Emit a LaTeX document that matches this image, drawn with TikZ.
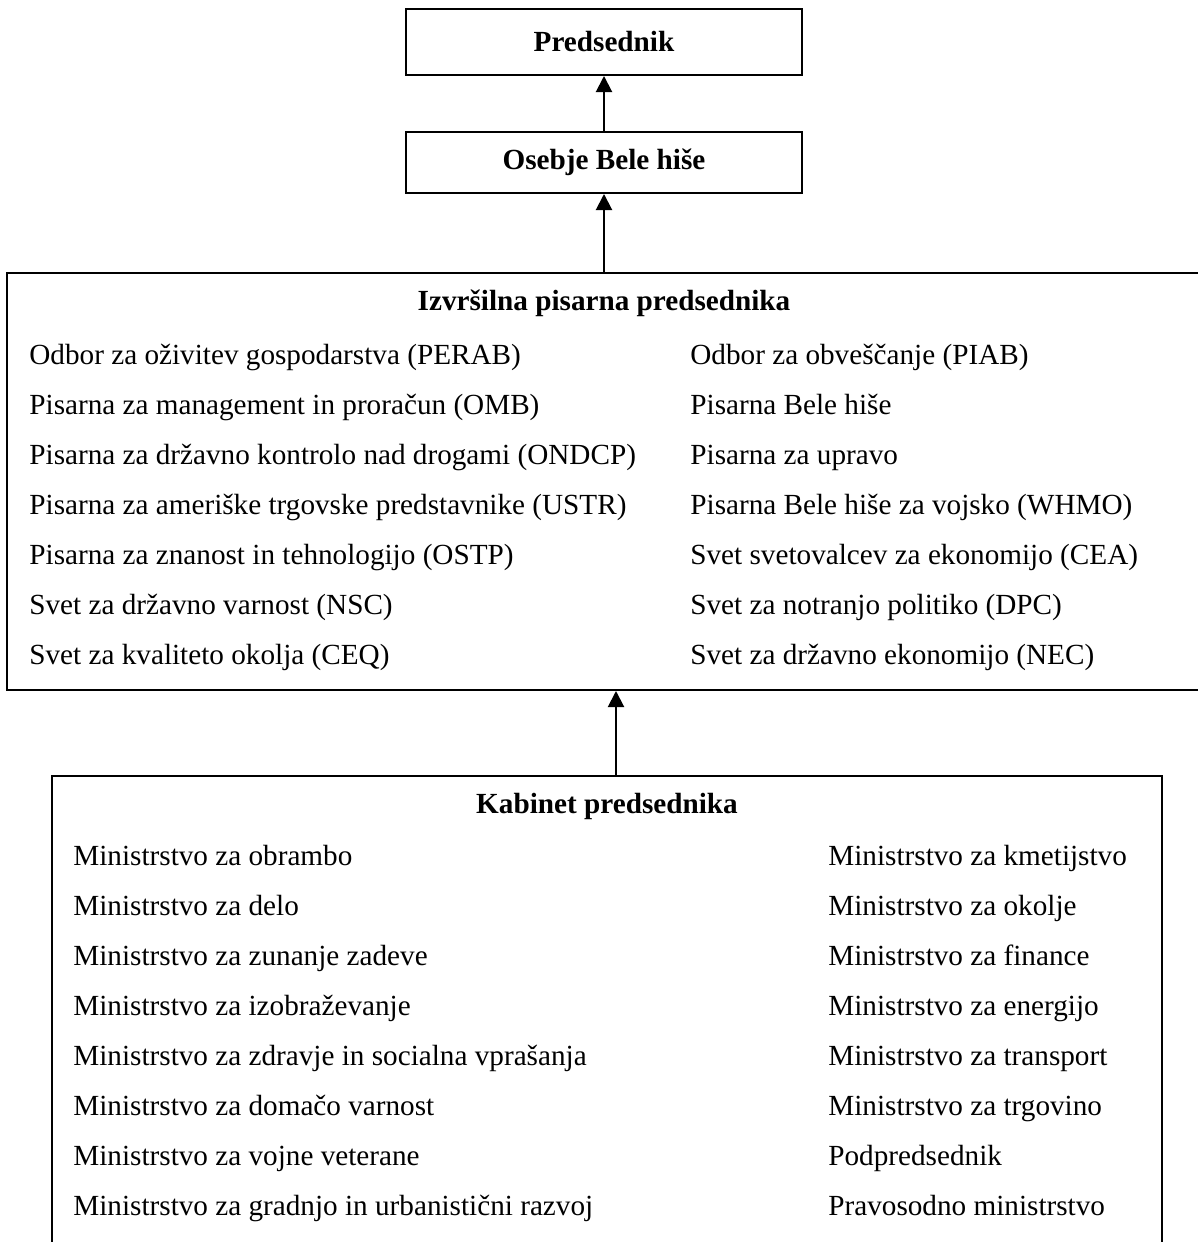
\documentclass[tikz,border=0pt]{standalone}
\usepackage{fontspec}
\setmainfont{Liberation Serif}
\usetikzlibrary{arrows.meta}
\begin{document}
\begin{tikzpicture}[x=0.5pt,y=-0.5pt,
  box/.style={draw, line width=1pt, inner sep=0pt},
  arr/.style={line width=1pt, -{Triangle[length=8pt,width=8pt]}},
  item/.style={anchor=base west, inner sep=0pt, font=\fontsize{14.6}{17}\selectfont},
  head/.style={anchor=base, inner sep=0pt, font=\fontsize{14.6}{17}\selectfont\bfseries}]
\useasboundingbox (0,0) rectangle (1198,1242);
\clip (0,0) rectangle (1198,1242);
% top boxes
\node[box, minimum width=198pt, minimum height=33pt, font=\fontsize{14.6}{17}\selectfont\bfseries] (pred) at (604,42) {Predsednik};
\node[box, minimum width=198pt, minimum height=30.5pt, font=\fontsize{14.6}{17}\selectfont\bfseries] (osebje) at (604,162.5) {Osebje Bele hiše};
% executive office
\node[box, minimum width=601.5pt, minimum height=208.5pt] (eop) at (608.5,481.5) {};
\node[head] (eoph) at (604,310) {Izvršilna pisarna predsednika};
\foreach \t [count=\i from 0] in {Odbor za oživitev gospodarstva (PERAB), Pisarna za management in proračun (OMB), Pisarna za državno kontrolo nad drogami (ONDCP), Pisarna za ameriške trgovske predstavnike (USTR), Pisarna za znanost in tehnologijo (OSTP), Svet za državno varnost (NSC), Svet za kvaliteto okolja (CEQ)}
  \node[item] (eopL\i) at (29,364+50*\i) {\t};
\foreach \t [count=\i from 0] in {Odbor za obveščanje (PIAB), Pisarna Bele hiše, Pisarna za upravo, Pisarna Bele hiše za vojsko (WHMO), Svet svetovalcev za ekonomijo (CEA), Svet za notranjo politiko (DPC), Svet za državno ekonomijo (NEC)}
  \node[item] (eopR\i) at (690,364+50*\i) {\t};
% cabinet
\node[box, minimum width=555pt, minimum height=262pt] (kab) at (607,1038) {};
\node[head] (kabh) at (607,813) {Kabinet predsednika};
\foreach \t [count=\i from 0] in {Ministrstvo za obrambo, Ministrstvo za delo, Ministrstvo za zunanje zadeve, Ministrstvo za izobraževanje, Ministrstvo za zdravje in socialna vprašanja, Ministrstvo za domačo varnost, Ministrstvo za vojne veterane, Ministrstvo za gradnjo in urbanistični razvoj}
  \node[item] (kabL\i) at (73,865+50*\i) {\t};
\foreach \t [count=\i from 0] in {Ministrstvo za kmetijstvo, Ministrstvo za okolje, Ministrstvo za finance, Ministrstvo za energijo, Ministrstvo za transport, Ministrstvo za trgovino, Podpredsednik, Pravosodno ministrstvo}
  \node[item] (kabR\i) at (828,865+50*\i) {\t};
% connectors
\draw[arr] (osebje.north) -- (pred.south);
\draw[arr] (eop.north -| osebje.south) -- (osebje.south);
\draw[arr] ([xshift=4.5pt]kab.north) -- ([xshift=4.5pt]kab.north |- eop.south);
\end{tikzpicture}
\end{document}
